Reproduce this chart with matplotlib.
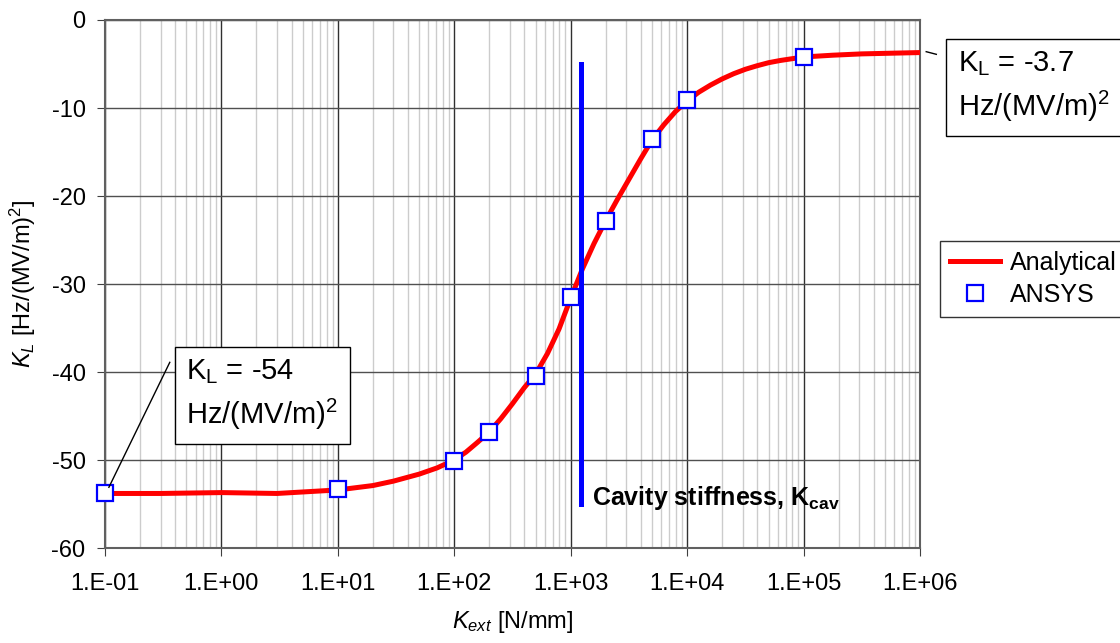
import numpy as np
import matplotlib.pyplot as plt
from matplotlib.ticker import FixedLocator, FuncFormatter, NullFormatter

plt.rcParams['font.family'] = ['Liberation Sans', 'DejaVu Sans']
plt.rcParams['mathtext.fontset'] = 'custom'
plt.rcParams['mathtext.rm'] = 'Liberation Sans'
plt.rcParams['mathtext.it'] = 'Liberation Sans:italic'
plt.rcParams['mathtext.bf'] = 'Liberation Sans:bold'
plt.rcParams['axes.unicode_minus'] = False

# Analytical curve
k_ext_curve = [0.1, 0.3, 1, 3, 10, 20, 30, 50, 71, 100, 126, 158, 200, 251, 316, 398,
               501, 631, 794, 1000, 1259, 1585, 1995, 2512, 3162, 3981, 5012, 6310,
               7943, 1e4, 12590, 15850, 19950, 25120, 31620, 39810, 50120, 63100,
               79430, 1e5, 1.78e5, 3.16e5, 1e6]
kl_curve = [-53.8, -53.8, -53.7, -53.8, -53.4, -52.9, -52.4, -51.6, -50.9, -50.0,
            -49.1, -48.0, -46.8, -45.3, -43.6, -41.8, -40.2, -37.9, -35.1, -31.6,
            -28.3, -25.4, -22.8, -20.4, -18.1, -15.8, -13.6, -11.9, -10.4, -9.2,
            -8.2, -7.4, -6.7, -6.1, -5.6, -5.2, -4.85, -4.6, -4.4, -4.2, -4.0,
            -3.85, -3.7]

# ANSYS points
k_ext_ansys = [0.1, 10, 100, 200, 500, 1000, 2000, 5000, 1e4, 1e5]
kl_ansys = [-53.8, -53.3, -50.1, -46.8, -40.5, -31.5, -22.8, -13.5, -9.1, -4.2]

# axis ticks
x_decades = [0.1, 1, 10, 100, 1e3, 1e4, 1e5, 1e6]
y_ticks = [-60, -50, -40, -30, -20, -10, 0]

# cavity stiffness
k_cav = 1230
kcav_span = [-5, -55]

fig = plt.figure(figsize=(11.2, 6.43), dpi=100)
ax = fig.add_axes([0.09375, 0.1477, 0.7277, 0.8212])

ax.set_xscale('log')
ax.set_xlim(0.1, 1e6)
ax.set_ylim(-60, 0)

minor = [d * m for d in x_decades[:-1] for m in range(2, 10)]
ax.xaxis.set_major_locator(FixedLocator(x_decades))
ax.xaxis.set_minor_locator(FixedLocator(minor))
ax.xaxis.set_major_formatter(FuncFormatter(lambda v, p: '1.E%+03d' % round(np.log10(v))))
ax.xaxis.set_minor_formatter(NullFormatter())
ax.yaxis.set_major_locator(FixedLocator(y_ticks))

ax.grid(which='minor', axis='x', color='#cccccc', linewidth=1)
ax.grid(which='major', axis='x', color='#303030', linewidth=1)
ax.grid(which='major', axis='y', color='#505050', linewidth=1)
ax.set_axisbelow(True)
for s in ax.spines.values():
    s.set_color('#606060')
    s.set_linewidth(1.5)

ax.tick_params(axis='both', which='major', labelsize=17, direction='out', length=6,
               color='#404040', pad=8)
ax.tick_params(axis='x', which='minor', length=0)
ax.tick_params(axis='x', pad=12)

ax.plot(k_ext_curve, kl_curve, color='red', linewidth=3.6, label='Analytical', zorder=3,
        solid_joinstyle='round')
ax.plot(k_ext_ansys, kl_ansys, linestyle='none', marker='s', markersize=12,
        markerfacecolor='white', markeredgecolor='blue', markeredgewidth=1.6,
        label='ANSYS', zorder=4, clip_on=False)

ax.plot([k_cav, k_cav], kcav_span, color='blue', linewidth=3.6, zorder=3)
ax.text(k_cav * 1.23, -54.3, r'Cavity stiffness, $\mathbf{K_{cav}}$', fontsize=18,
        fontweight='bold', va='center', ha='left', zorder=5)

ax.set_xlabel(r'$K_{ext}$ [N/mm]', fontsize=17, labelpad=10)
ax.set_ylabel(r'$K_L$ [Hz/(MV/m)$^2$]', fontsize=17, labelpad=10)

# annotation boxes with short leader lines
box = dict(boxstyle='square,pad=0.4', facecolor='white', edgecolor='black', linewidth=1)
ax.plot([0.108, 0.36], [-53.1, -38.9], color='black', linewidth=1, zorder=5)
ax.text(0.5, -42.6, 'K$_\\mathregular{L}$ = -54\nHz/(MV/m)$^\\mathregular{2}$', fontsize=21,
        ha='left', va='center', linespacing=1.4, bbox=box, zorder=6)
ax.plot([1.13e6, 1.38e6], [-3.6, -3.9], color='black', linewidth=1, zorder=5, clip_on=False)
ax.text(2.1e6, -7.6, 'K$_\\mathregular{L}$ = -3.7\nHz/(MV/m)$^\\mathregular{2}$', fontsize=21,
        ha='left', va='center', linespacing=1.4, bbox=box, zorder=6, clip_on=False)

leg = fig.legend(loc='upper left', bbox_to_anchor=(0.8393, 0.625), fontsize=18,
                 frameon=True, fancybox=False, edgecolor='black', handlelength=2.0,
                 borderpad=0.4, labelspacing=0.3, handletextpad=0.4, borderaxespad=0)
leg.get_frame().set_linewidth(1)

fig.savefig('out.png', dpi=100)
